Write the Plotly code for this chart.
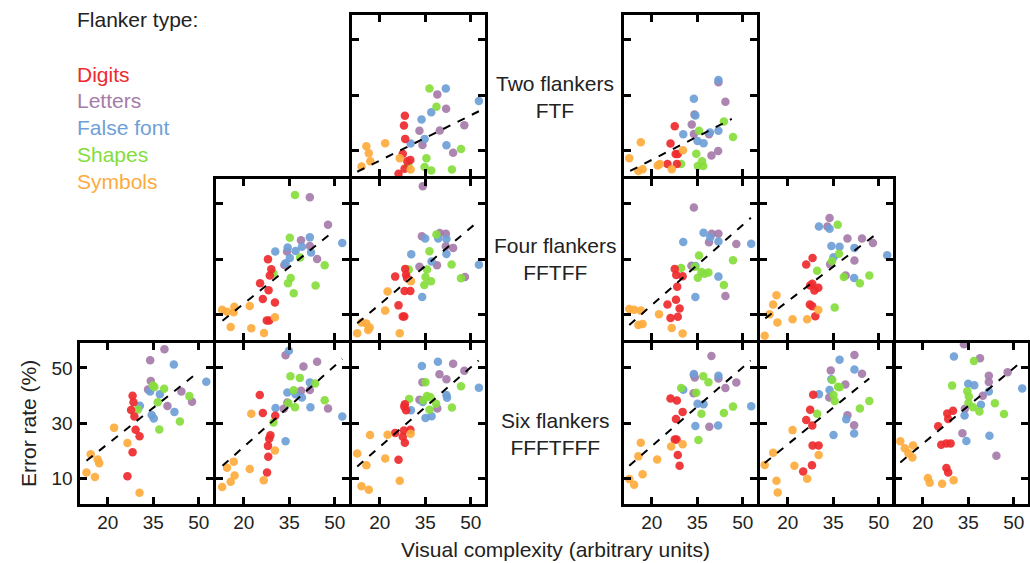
import plotly.graph_objects as go

W, H = 1030, 563

TYPES = ["Letters", "False font", "Shapes", "Digits", "Symbols"]
COLORS = {"Digits": "#ee2a2e", "Letters": "#a57ba9", "False font": "#6e9fd6",
          "Shapes": "#85dd3c", "Symbols": "#fdab3d"}
LEGEND_ORDER = ["Digits", "Letters", "False font", "Shapes", "Symbols"]

X_TICKS = [20, 35, 50]
Y_TICKS = [10, 30, 50]

# values: per panel, per flanker type (x list, y list); fit = dashed line ends
two_L1 = {
    "Shapes": ([36.4, 38.7, 35.4, 34.8, 37.0, 43.8, 46.8, 29.4], [32.4, 25.8, 7.2, 4.0, 2.8, 3.1, 10.5, 4.6]),
    "False font": ([41.8, 37.0, 33.8, 34.8, 30.2, 42.0, 52.7, 34.2], [32.4, 23.8, 21.2, 14.2, 12.5, 11.9, 27.9, -1.3]),
    "Letters": ([39.0, 41.9, 33.1, 39.8, 47.9, 34.1, 44.2], [30.3, 25.1, 17.1, 17.2, 19.1, 12.0, 9.2]),
    "Digits": ([28.3, 28.0, 28.4, 27.6, 30.1, 29.1, 28.2, 26.2], [22.6, 19.0, 14.2, 8.8, 6.6, 6.1, 3.4, 1.6]),
    "Symbols": ([15.6, 16.4, 16.9, 21.8, 26.6, 30.2, 14.0, 12.6], [11.5, 9.0, 6.1, 12.6, 7.2, 3.1, 4.2, 0.2]),
    "fit": ([12.6, 52.7], [2.3, 24.2]),
}
two_R1 = {
    "Symbols": ([12.6, 16.4, 15.6, 17.0, 22.0, 22.7, 26.6, 30.3], [7.2, 13.0, 2.6, 3.2, 4.6, 5.1, 3.2, 10.1]),
    "Digits": ([27.6, 26.2, 27.9, 28.6, 25.2, 28.3, 28.4, 30.1], [18.8, 12.5, 8.7, 8.7, 5.1, 5.1, 0.4, 0.4]),
    "False font": ([42.0, 33.9, 34.4, 30.4, 35.1, 37.1, 39.2, 42.0], [35.5, 28.7, 22.7, 15.9, 13.4, 12.6, 16.5, 17.1]),
    "Letters": ([42.0, 44.3, 34.1, 33.2, 33.9, 38.9, 39.7, 41.9], [34.7, 27.6, 23.0, 19.4, 16.0, 15.9, 8.2, 9.8]),
    "Shapes": ([35.6, 43.8, 46.8, 34.7, 29.7, 36.6, 35.2, 37.0], [17.1, 20.5, 14.9, 8.8, 5.1, 6.1, 4.4, 4.4]),
    "fit": ([12.9, 46.4], [2.6, 21.4]),
}
four_L2 = {
    "Shapes": ([36.9, 35.2, 38.6, 46.7, 29.8, 35.5, 34.6, 43.7, 36.5], [53.2, 37.8, 30.6, 27.8, 24.8, 23.2, 21.3, 20.5, 17.7]),
    "Letters": ([41.8, 47.8, 38.9, 41.8, 44.2, 34.3, 33.4], [52.4, 42.5, 36.9, 34.8, 30.1, 32.8, 27.9]),
    "False font": ([52.5, 41.8, 34.5, 37.1, 39.2, 42.2, 30.4, 35.2, 33.8], [35.9, 37.9, 34.2, 33.0, 34.5, 32.4, 32.8, 30.4, 28.5]),
    "Digits": ([28.0, 29.1, 28.6, 25.4, 28.2, 26.3, 30.3, 27.6, 28.4], [30.0, 26.4, 24.1, 21.3, 18.8, 15.6, 14.3, 7.8, 7.8]),
    "Symbols": ([12.9, 14.5, 16.9, 16.7, 22.0, 15.7, 22.5, 26.7, 30.3], [11.7, 11.0, 12.8, 10.8, 13.1, 5.5, 5.0, 3.3, 9.0]),
    "fit": ([13.0, 49.2], [7.7, 39.7]),
}
four_L1 = {
    "Letters": ([34.2, 33.9, 39.8, 41.8, 41.8, 44.2, 38.9, 33.1, 48.1], [56.4, 38.3, 39.5, 39.2, 34.7, 34.1, 27.8, 27.3, 23.6]),
    "Shapes": ([38.7, 36.4, 43.7, 35.6, 29.6, 35.1, 36.9, 34.7, 46.8], [38.9, 32.9, 28.1, 26.3, 26.3, 23.6, 22.0, 20.7, 23.1]),
    "False font": ([35.0, 39.3, 42.0, 42.0, 37.1, 30.4, 34.0, 52.7], [37.5, 37.5, 37.3, 31.9, 29.2, 31.8, 16.3, 28.0]),
    "Digits": ([28.4, 28.7, 25.1, 29.0, 28.2, 30.1, 26.2, 27.6, 28.1], [26.5, 24.4, 23.7, 23.2, 18.5, 18.5, 13.3, 9.3, 9.3]),
    "Symbols": ([30.3, 22.6, 21.8, 14.0, 15.6, 16.7, 16.2, 12.6, 26.6], [22.0, 18.3, 11.4, 7.1, 6.7, 5.3, 4.4, 3.2, 3.2]),
    "fit": ([12.6, 52.6], [6.8, 43.8]),
}
four_R1 = {
    "Letters": ([33.9, 39.8, 42.0, 38.9, 47.9, 33.1, 44.3], [48.7, 39.2, 39.2, 36.1, 35.5, 27.6, 16.7]),
    "False font": ([37.1, 39.3, 42.0, 30.4, 52.8, 34.4, 42.0, 34.4], [39.6, 37.9, 36.4, 36.2, 35.6, 27.5, 23.7, 16.3]),
    "Shapes": ([35.6, 46.8, 29.7, 34.2, 36.4, 38.7, 37.4, 35.2, 43.8], [31.3, 29.6, 26.8, 27.3, 25.4, 25.2, 24.7, 23.3, 20.7]),
    "Digits": ([27.6, 28.1, 30.2, 28.4, 28.0, 25.2, 29.2, 26.2, 28.6], [26.5, 24.3, 23.8, 20.0, 15.3, 13.6, 12.2, 8.7, 9.2]),
    "Symbols": ([12.6, 14.2, 16.4, 15.6, 17.0, 22.4, 26.6, 30.2, 21.8], [12.0, 11.7, 11.4, 6.2, 6.6, 10.1, 5.1, 3.1, 0.4]),
    "fit": ([12.6, 52.7], [6.2, 45.0]),
}
four_R2 = {
    "Letters": ([33.8, 33.1, 39.7, 44.5, 48.1, 42.0, 34.0, 39.1], [44.9, 41.8, 37.5, 37.5, 35.9, 29.5, 28.2, 24.1]),
    "False font": ([30.3, 33.8, 34.4, 37.1, 42.0, 35.1, 41.9, 52.8], [41.8, 41.0, 34.8, 34.5, 34.1, 30.7, 23.2, 31.4]),
    "Shapes": ([36.5, 36.9, 34.6, 29.7, 38.5, 46.9, 43.8, 35.5], [42.5, 32.0, 29.3, 25.8, 23.6, 24.1, 21.3, 12.5]),
    "Digits": ([28.2, 26.1, 28.1, 27.4, 28.8, 30.1, 27.3, 28.1, 29.1], [30.4, 28.1, 21.1, 20.5, 18.7, 19.7, 13.6, 13.0, 9.4]),
    "Symbols": ([16.3, 15.2, 14.0, 16.6, 21.6, 26.4, 30.1, 12.4], [17.0, 13.6, 10.1, 7.1, 8.3, 8.3, 11.6, 2.3]),
    "fit": ([12.6, 49.9], [8.6, 39.7]),
}
six_L3 = {
    "Letters": ([38.7, 34.0, 34.2, 33.3, 44.3, 39.7, 47.8], [56.8, 52.8, 45.3, 42.2, 41.5, 36.2, 37.8]),
    "False font": ([41.8, 52.5, 34.0, 37.2, 30.6, 34.5, 35.2, 42.0], [51.2, 45.0, 41.5, 40.5, 36.3, 33.0, 31.7, 34.1]),
    "Shapes": ([34.9, 35.4, 38.6, 36.5, 46.9, 30.0, 37.0, 43.8], [43.6, 43.1, 42.5, 37.6, 39.8, 35.0, 27.7, 30.6]),
    "Digits": ([28.2, 28.5, 27.7, 28.8, 29.2, 30.5, 28.2, 26.5], [39.9, 37.6, 34.8, 32.4, 27.6, 25.3, 19.5, 10.8]),
    "Symbols": ([22.1, 26.5, 14.4, 16.7, 17.2, 13.0, 15.8, 30.5], [28.4, 22.8, 18.8, 16.9, 15.5, 12.2, 10.5, 4.8]),
    "fit": ([13.0, 49.2], [16.4, 47.9]),
}
six_L2 = {
    "False font": ([34.9, 41.8, 34.4, 37.1, 39.2, 42.0, 30.5, 33.8, 52.5], [56.2, 44.7, 41.1, 40.5, 39.3, 35.8, 35.5, 23.5, 32.4]),
    "Letters": ([33.8, 39.7, 44.2, 38.9, 41.8, 34.4, 33.2, 47.8], [54.6, 50.5, 52.2, 41.7, 42.0, 37.5, 35.2, 35.3]),
    "Shapes": ([35.4, 38.5, 43.5, 36.5, 46.7, 34.7, 36.9, 29.8], [47.0, 46.4, 44.4, 41.9, 38.3, 37.2, 35.8, 30.3]),
    "Digits": ([25.3, 26.3, 30.4, 28.8, 28.4, 28.0, 28.1, 27.7], [40.2, 33.7, 32.7, 25.6, 24.4, 21.8, 17.9, 12.2]),
    "Symbols": ([22.5, 30.3, 16.7, 14.5, 22.0, 17.0, 15.7, 12.9, 26.6], [33.4, 20.1, 16.1, 13.9, 13.4, 11.1, 8.8, 6.9, 9.4]),
    "fit": ([13.0, 52.5], [14.6, 53.2]),
}
six_L1 = {
    "False font": ([33.9, 39.2, 34.2, 42.0, 42.2, 30.3, 37.1, 35.1, 52.7], [50.7, 52.2, 37.7, 40.2, 39.2, 34.7, 32.5, 31.9, 42.8]),
    "Letters": ([41.8, 44.2, 47.9, 39.7, 42.0, 34.1, 33.1, 39.0], [59.6, 51.5, 49.0, 47.7, 45.9, 44.8, 38.5, 35.3]),
    "Shapes": ([35.1, 46.8, 29.7, 35.6, 36.7, 34.4, 38.6, 36.4, 43.8], [44.8, 43.4, 38.8, 39.8, 39.4, 38.3, 37.0, 34.9, 35.7]),
    "Digits": ([28.3, 28.1, 28.7, 25.1, 28.0, 30.1, 27.6, 28.3, 26.2], [36.9, 36.0, 34.7, 26.5, 27.4, 27.6, 25.1, 22.9, 16.8]),
    "Symbols": ([16.8, 22.6, 30.2, 12.6, 15.6, 21.8, 14.0, 16.4, 26.6], [25.7, 25.8, 26.2, 19.0, 14.8, 17.2, 7.2, 5.9, 9.2]),
    "fit": ([12.6, 52.6], [14.3, 52.7]),
}
six_R1 = {
    "Letters": ([39.7, 33.9, 34.2, 42.0, 47.9, 44.3, 33.8, 39.0], [54.3, 47.4, 46.5, 46.2, 44.7, 42.7, 40.8, 28.7]),
    "False font": ([33.9, 42.0, 30.4, 35.1, 37.1, 34.4, 41.9, 52.8], [47.8, 47.2, 42.1, 37.0, 36.9, 29.0, 29.2, 36.1]),
    "Shapes": ([37.0, 38.7, 29.7, 34.7, 36.4, 43.8, 46.8, 35.4], [47.0, 44.8, 42.7, 41.0, 33.4, 33.7, 36.0, 23.9]),
    "Digits": ([26.2, 28.3, 30.2, 28.0, 27.6, 28.2, 28.6, 29.2], [38.9, 38.2, 34.1, 31.5, 24.1, 24.1, 18.5, 14.6]),
    "Symbols": ([16.4, 26.4, 30.2, 15.6, 21.8, 12.6, 14.2, 17.0], [22.9, 21.6, 22.4, 18.0, 16.9, 9.8, 7.7, 11.5]),
    "fit": ([12.6, 52.6], [14.6, 52.7]),
}
six_R2 = {
    "Letters": ([42.0, 34.2, 44.5, 39.0, 33.7, 39.7, 41.9, 33.1], [54.7, 49.1, 47.9, 44.0, 39.3, 32.9, 29.3, 59.5]),
    "False font": ([37.1, 42.0, 34.4, 33.8, 30.3, 39.3, 35.1, 41.9], [53.0, 49.4, 45.9, 42.0, 40.5, 31.4, 25.7, 26.3]),
    "Shapes": ([34.7, 36.6, 37.1, 35.1, 35.5, 46.9, 43.8, 29.7], [45.6, 43.2, 43.0, 40.2, 38.0, 38.0, 35.3, 33.4]),
    "Digits": ([28.4, 27.4, 26.1, 28.1, 28.2, 30.2, 28.0, 25.1], [40.3, 34.9, 31.2, 29.2, 21.9, 21.9, 14.8, 12.5]),
    "Symbols": ([21.6, 15.2, 12.4, 22.2, 30.2, 26.4, 16.3, 16.7], [27.5, 19.3, 14.9, 14.6, 18.5, 9.9, 9.2, 4.9]),
    "fit": ([12.4, 46.9], [15.6, 46.2]),
}
six_R3 = {
    "Letters": ([33.6, 38.9, 41.8, 41.8, 48.0, 39.8, 33.1, 44.3, 33.9], [58.6, 53.5, 47.2, 44.9, 48.4, 39.9, 26.4, 18.2, 35.2]),
    "False font": ([30.3, 35.0, 37.0, 41.8, 39.2, 33.8, 34.4, 42.0, 52.8], [54.1, 44.3, 43.7, 41.5, 36.7, 32.8, 23.6, 25.5, 42.6]),
    "Shapes": ([36.9, 29.7, 34.7, 35.2, 35.1, 36.6, 38.7, 43.8, 46.8], [52.5, 43.6, 41.6, 39.7, 37.3, 35.8, 34.2, 37.2, 33.3]),
    "Digits": ([30.0, 28.1, 28.4, 25.1, 26.1, 27.8, 29.2, 27.8, 28.4], [34.5, 33.5, 31.5, 28.9, 22.2, 22.7, 22.7, 13.8, 12.2]),
    "Symbols": ([12.6, 14.1, 16.8, 15.3, 16.6, 21.7, 22.3, 26.4, 30.2], [23.5, 20.9, 21.9, 19.1, 17.6, 10.2, 8.5, 8.1, 9.4]),
    "fit": ([12.6, 52.4], [15.8, 52.1]),
}

ROW_LABELS = ["Two flankers<br>FTF", "Four flankers<br>FFTFF", "Six flankers<br>FFFTFFF"]

# panel frames in pixels (frame-line centres): left px and top px
COL_PX = {"L3": 78, "L2": 214, "L1": 350, "R1": 622, "R2": 758, "R3": 893}
ROW_PX = [13, 177, 341]
PW, PH = 136, 164
LW = 3
PANELS = [
    (two_L1, "L1", 0), (two_R1, "R1", 0),
    (four_L2, "L2", 1), (four_L1, "L1", 1), (four_R1, "R1", 1), (four_R2, "R2", 1),
    (six_L3, "L3", 2), (six_L2, "L2", 2), (six_L1, "L1", 2),
    (six_R1, "R1", 2), (six_R2, "R2", 2), (six_R3, "R3", 2),
]

FONT = "Arial, Liberation Sans, sans-serif"
TXT = "#222222"
TS = 21

fig = go.Figure()
layout = {}
h = LW / 2
for i, (data, col, row) in enumerate(PANELS, start=1):
    sx = "" if i == 1 else str(i)
    x0 = COL_PX[col]
    y0 = ROW_PX[row]
    for t in TYPES:
        xs, ys = data[t]
        fig.add_trace(go.Scatter(
            x=xs, y=ys, mode="markers", xaxis="x" + sx, yaxis="y" + sx,
            marker=dict(size=8.5, color=COLORS[t], opacity=0.92, line=dict(width=0)),
            cliponaxis=False, showlegend=False, hoverinfo="skip"))
    fx, fy = data["fit"]
    fig.add_trace(go.Scatter(
        x=fx, y=fy, mode="lines", xaxis="x" + sx, yaxis="y" + sx,
        line=dict(color="black", width=2, dash="8px,8px"), showlegend=False, hoverinfo="skip"))
    common = dict(showline=True, linewidth=LW, linecolor="black", mirror="ticks",
                  ticks="inside", ticklen=7, tickwidth=2.5, tickcolor="black",
                  showgrid=False, zeroline=False,
                  tickfont=dict(family=FONT, size=19, color=TXT))
    layout["xaxis" + sx] = dict(common, domain=[(x0 + h) / W, (x0 + PW - h) / W], anchor="y" + sx,
                                range=[10.7, 54.55], tickvals=X_TICKS,
                                showticklabels=(row == 2))
    layout["yaxis" + sx] = dict(common, domain=[1 - (y0 + PH - h) / H, 1 - (y0 + h) / H],
                                anchor="x" + sx, range=[0.95, 59.2], tickvals=Y_TICKS,
                                showticklabels=(row == 2 and col == "L3"))

annotations = [dict(text="Flanker type:", x=75 / W, y=1 - 20 / H, xanchor="left", yanchor="middle",
                    font=dict(family=FONT, size=TS, color=TXT))]
for k, t in enumerate(LEGEND_ORDER):
    annotations.append(dict(text=t, x=75 / W, y=1 - (74 + 26.8 * k) / H, xanchor="left",
                            yanchor="middle", font=dict(family=FONT, size=TS, color=COLORS[t])))
for r, lab in enumerate(ROW_LABELS):
    annotations.append(dict(text=lab, x=555 / W, y=1 - [97, 259, 434][r] / H, xanchor="center",
                            yanchor="middle", align="center",
                            font=dict(family=FONT, size=TS, color=TXT)))
annotations.append(dict(text="Visual complexity (arbitrary units)", x=555 / W, y=1 - 549 / H,
                        xanchor="center", yanchor="middle", font=dict(family=FONT, size=TS, color=TXT)))
annotations.append(dict(text="Error rate (%)", x=28 / W, y=1 - 424 / H, textangle=-90,
                        xanchor="center", yanchor="middle", font=dict(family=FONT, size=TS, color=TXT)))
for a in annotations:
    a.update(xref="paper", yref="paper", showarrow=False)

fig.update_layout(**layout)
fig.update_layout(width=W, height=H, margin=dict(l=0, r=0, t=0, b=0),
                  paper_bgcolor="white", plot_bgcolor="white",
                  annotations=annotations, showlegend=False)
fig.write_html("out.html", config={"displayModeBar": False},
               post_script="document.body.style.margin='0px';")
